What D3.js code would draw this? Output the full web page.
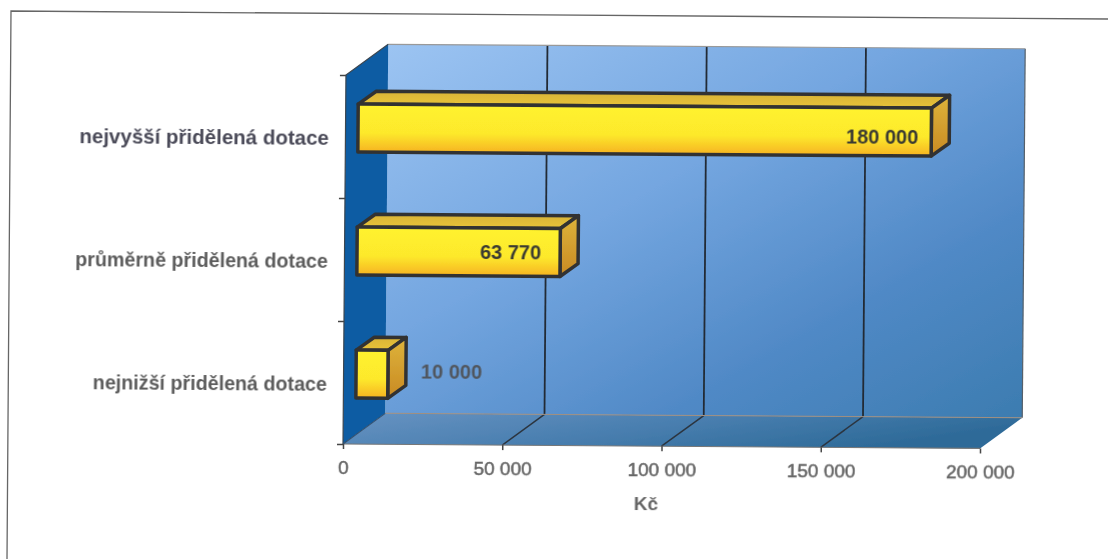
<!DOCTYPE html>
<html>
<head>
<meta charset="utf-8">
<script src="https://cdn.jsdelivr.net/npm/d3@7"></script>
<style>
  html, body { margin: 0; padding: 0; background: #fff; overflow: hidden; }
  text { font-family: "Liberation Sans", Arial, sans-serif; font-weight: bold; }
  .axis path { display: none; }
  .axis line { stroke: #444; stroke-width: 1.5; }
  .axis text { font-size: 19px; fill: #666; font-weight: normal; stroke: #666; stroke-width: .5; }
</style>
</head>
<body>
<div id="chart"></div>
<script>
// data
var categories = ["nejvyšší přidělená dotace", "průměrně přidělená dotace", "nejnižší přidělená dotace"];
var values = [180000, 63770, 10000];
var xTicks = [0, 50000, 100000, 150000, 200000];
var axisTitle = "Kč";

var svgWidth = 1108, svgHeight = 559;

// plot box on the paper
var plotWidth = 637, plotHeight = 369;
// how far the back wall sits behind the front plane
var depthX = 42, depthY = -31;
// bars stand a bit behind the front plane, and have their own depth
var barInX = 12.5, barInY = -8.5, barDepthX = 18, barDepthY = -13;
var barHeight = 48;

var svg = d3.select("#chart").append("svg")
  .attr("width", svgWidth)
  .attr("height", svgHeight);

var defs = svg.append("defs");

function gradient(id, x2, y2, stops) {
  var g = defs.append("linearGradient").attr("id", id)
    .attr("x1", 0).attr("y1", 0).attr("x2", x2).attr("y2", y2);
  stops.forEach(function(s) {
    g.append("stop").attr("offset", s[0]).attr("stop-color", s[1]);
  });
}
gradient("wallFill", 1, 1, [[0, "#9cc4f2"], [0.4, "#74a6e0"], [0.72, "#5089c6"], [1, "#3c7cb0"]]);
gradient("floorFill", 1, 0.3, [[0, "#6793c2"], [0.5, "#4a7fb0"], [1, "#2d6a98"]]);
gradient("barFront", 0, 1, [[0, "#fff22e"], [0.6, "#fde92c"], [1, "#f6b322"]]);
gradient("barTop", 0, 1, [[0, "#d9b436"], [1, "#e8c33a"]]);
gradient("barSide", 0, 1, [[0, "#deb43a"], [1, "#c98a24"]]);

// scan softness
defs.append("filter").attr("id", "soft")
  .attr("x", "-5%").attr("y", "-5%").attr("width", "110%").attr("height", "110%")
  .append("feGaussianBlur").attr("stdDeviation", 0.5);

// the sheet border, scanned a little crooked
svg.append("path")
  .attr("d", "M7,559 L11,11 L1108,19")
  .attr("fill", "none")
  .attr("stroke", "#666")
  .attr("stroke-width", 1.3);

// bottoms of the letters from the line above the sheet
svg.append("text").attr("x", 938).attr("y", -5).style("font-family", "Liberation Serif").style("font-weight", "normal").style("font-size", "20px").attr("fill", "#333").text("y");
svg.append("text").attr("x", 1018).attr("y", -5).style("font-family", "Liberation Serif").style("font-weight", "normal").style("font-size", "20px").attr("fill", "#333").text("p");

// everything on the chart leans with the scan
var chartGroup = svg.append("g")
  .attr("filter", "url(#soft)")
  .append("g")
  .attr("transform", "translate(343,444) matrix(1,0.007,-0.008,1,0,0)");

var fmt = d3.formatLocale({ decimal: ",", thousands: " ", grouping: [3], currency: ["", " Kč"] }).format(",d");

var xScale = d3.scaleLinear().domain([0, 200000]).range([0, plotWidth]);
var yBand = d3.scaleBand().domain(categories).range([-plotHeight, 0]);
var yEdge = d3.scaleLinear().domain([0, categories.length]).range([0, -plotHeight]);

function pts(list) {
  return list.map(function(p) { return p.join(","); }).join(" ");
}

// back wall
chartGroup.append("polygon")
  .attr("points", pts([[depthX, -plotHeight + depthY], [plotWidth + depthX, -plotHeight + depthY], [plotWidth + depthX, depthY], [depthX, depthY]]))
  .attr("fill", "url(#wallFill)");

// floor
chartGroup.append("polygon")
  .attr("points", pts([[0, 0], [plotWidth, 0], [plotWidth + depthX, depthY], [depthX, depthY]]))
  .attr("fill", "url(#floorFill)");

// left wall
chartGroup.append("polygon")
  .attr("points", pts([[0, 0], [0, -plotHeight], [depthX, -plotHeight + depthY], [depthX, depthY]]))
  .attr("fill", "#0a5ca3");

// gridlines on wall and floor
xTicks.slice(1).forEach(function(t) {
  var x = xScale(t);
  var last = t === 200000;
  chartGroup.append("line")
    .attr("x1", x + depthX).attr("x2", x + depthX)
    .attr("y1", -plotHeight + depthY).attr("y2", depthY)
    .attr("stroke", last ? "#56606a" : "#232c36")
    .attr("stroke-width", last ? 1.2 : 1.8);
  if (!last) {
    chartGroup.append("line")
      .attr("x1", x).attr("x2", x + depthX)
      .attr("y1", 0).attr("y2", depthY)
      .attr("stroke", "#2c3540")
      .attr("stroke-width", 1.5);
  }
});

// edges
chartGroup.append("line")
  .attr("x1", depthX).attr("x2", plotWidth + depthX)
  .attr("y1", depthY).attr("y2", depthY)
  .attr("stroke", "#a08f80").attr("stroke-width", 1);
chartGroup.append("line")
  .attr("x1", depthX).attr("x2", plotWidth + depthX)
  .attr("y1", -plotHeight + depthY).attr("y2", -plotHeight + depthY)
  .attr("stroke", "#999").attr("stroke-width", 1.2);
chartGroup.append("line")
  .attr("x1", 0).attr("x2", plotWidth)
  .attr("y1", 0).attr("y2", 0)
  .attr("stroke", "#777").attr("stroke-width", 1.2);
chartGroup.append("path")
  .attr("d", "M0,0 V" + (-plotHeight) + " L" + depthX + "," + (-plotHeight + depthY))
  .attr("fill", "none").attr("stroke", "#3c4650").attr("stroke-width", 1.2);
chartGroup.append("line")
  .attr("x1", 0).attr("x2", depthX)
  .attr("y1", 0).attr("y2", depthY)
  .attr("stroke", "#35506e").attr("stroke-width", 1);

// axes
var bottomAxis = d3.axisBottom(xScale)
  .tickValues(xTicks)
  .tickSize(5)
  .tickPadding(11.5)
  .tickFormat(function(d) { return fmt(d); });
chartGroup.append("g").attr("class", "axis").call(bottomAxis);

var leftAxis = d3.axisLeft(yEdge)
  .tickValues(d3.range(categories.length + 1))
  .tickSize(6)
  .tickFormat("");
chartGroup.append("g").attr("class", "axis").call(leftAxis);

// category labels, the top one came out a bit bigger and darker in the scan
chartGroup.append("g").selectAll("text")
  .data(categories)
  .enter()
  .append("text")
  .attr("x", -16.5)
  .attr("y", function(d) { return yBand(d) + yBand.bandwidth() / 2 + 8; })
  .attr("text-anchor", "end")
  .attr("fill", function(d, i) { return i === 0 ? "#4a4a58" : "#5c5c5c"; })
  .style("font-size", function(d, i) { return i === 0 ? "20.5px" : "19.7px"; })
  .text(function(d) { return d; });

// bars
var bars = chartGroup.append("g").selectAll("g")
  .data(categories)
  .enter()
  .append("g")
  .attr("stroke", "#333")
  .attr("stroke-width", 3.5)
  .attr("stroke-linejoin", "round")
  .attr("transform", function(d) {
    var cy = yBand(d) + yBand.bandwidth() / 2 + barInY;
    return "translate(" + barInX + "," + (cy - barHeight / 2) + ")";
  });

bars.append("polygon")
  .attr("points", function(d, i) {
    var w = xScale(values[i]);
    return pts([[0, 0], [barDepthX, barDepthY], [w + barDepthX, barDepthY], [w, 0]]);
  })
  .attr("fill", "url(#barTop)");

bars.append("polygon")
  .attr("points", function(d, i) {
    var w = xScale(values[i]);
    return pts([[w, 0], [w + barDepthX, barDepthY], [w + barDepthX, barHeight + barDepthY], [w, barHeight]]);
  })
  .attr("fill", "url(#barSide)");

bars.append("rect")
  .attr("width", function(d, i) { return xScale(values[i]); })
  .attr("height", barHeight)
  .attr("fill", "url(#barFront)");

// value labels, inside the long bars and beside the short one
var labelNudgeX = [2, -4, 0];
var labelNudgeY = [5, 0, -3];
chartGroup.append("g").selectAll("text")
  .data(values)
  .enter()
  .append("text")
  .attr("x", function(d, i) {
    var w = xScale(d) + barInX;
    return (d > 20000 ? w - 15 : w + 33) + labelNudgeX[i];
  })
  .attr("y", function(d, i) {
    return yBand(categories[i]) + yBand.bandwidth() / 2 + barInY + 7 + labelNudgeY[i];
  })
  .attr("text-anchor", function(d) { return d > 20000 ? "end" : "start"; })
  .attr("fill", function(d) { return d > 20000 ? "#3a3a30" : "#50565e"; })
  .style("font-size", "20px")
  .text(function(d) { return fmt(d); });

// axis title
chartGroup.append("text")
  .attr("x", xScale(100000) - 15)
  .attr("y", 64)
  .attr("text-anchor", "middle")
  .attr("fill", "#666")
  .style("font-size", "19px")
  .text(axisTitle);
</script>
</body>
</html>
